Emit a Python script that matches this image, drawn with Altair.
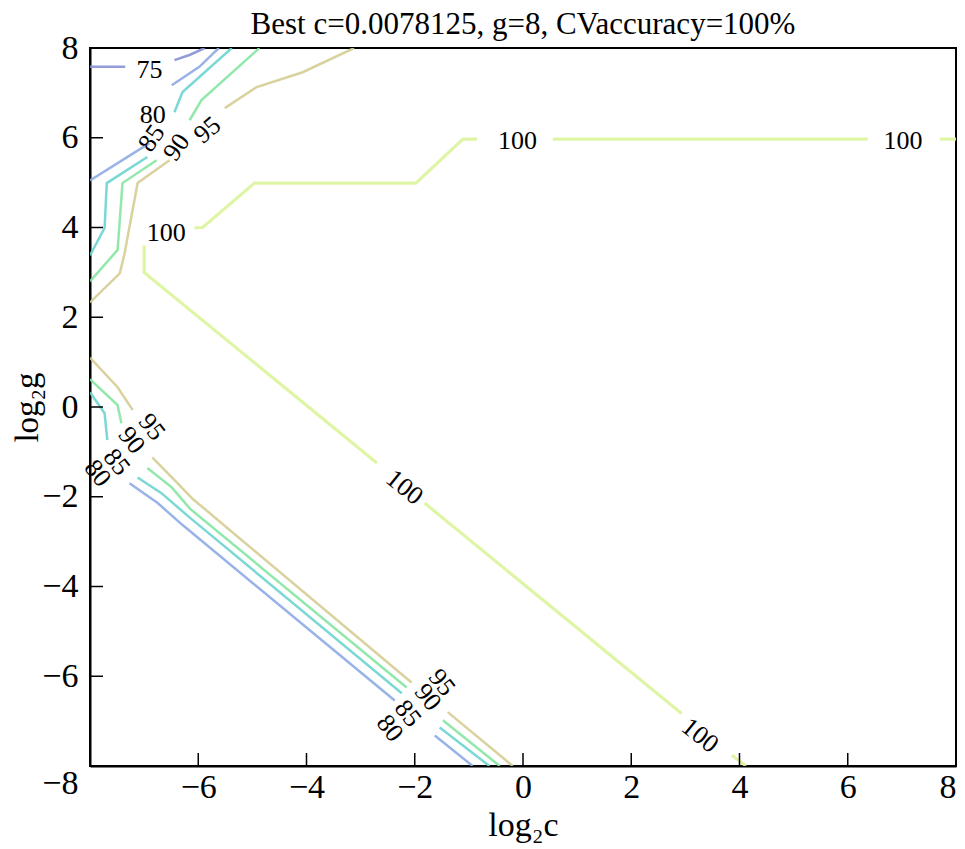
import altair as alt
import pandas as pd

# contour levels and colours
levels = [75, 80, 85, 90, 95, 100]
level_colors = ["#8791d4", "#8eaae6", "#6dd4d0", "#86e6a2", "#d5cd93", "#dcf49c"]

# contour pieces (log2c, log2g), broken where the inline labels sit
piece_level = [75, 75,
               80, 80, 85, 85, 90, 90, 95, 95,
               95, 95, 95, 90, 90, 90, 85, 85, 85, 80, 80,
               100, 100, 100, 100, 100, 100]
piece_x = [
    [-8, -7.35], [-6.44, -6.15, -5.88],
    [-8, -6.9], [-6.49, -5.98, -5.62],
    [-8, -7.73, -7.69, -6.94], [-6.44, -6.29, -5.38],
    [-8, -7.49, -7.4, -6.77], [-6.16, -5.94, -4.87],
    [-8, -7.45, -7.36, -7.12, -6.53], [-5.51, -4.92, -4.07, -3.12],
    [-8, -7.49, -7.21], [-6.85, -6.38, -6.1, -2.06], [-1.39, -0.19],
    [-8, -7.49, -7.42], [-6.94, -6.49, -6.15, -2.15], [-1.48, -0.43],
    [-8, -7.73, -7.68], [-7.12, -6.68, -6.2, -2.24], [-1.54, -0.62],
    [-7.27, -6.75, -6.3, -2.37], [-1.63, -0.93],
    [-7, -7, -2.7], [-1.82, 2.93], [3.86, 4.12],
    [-6.07, -5.92, -4.96, -1.98, -1.11, -0.85], [0.55, 6.37], [7.7, 8],
]
piece_y = [
    [7.58, 7.58], [7.73, 7.85, 8.0],
    [5.05, 5.88], [7.17, 7.58, 8.0],
    [3.38, 3.99, 4.99, 5.57], [6.57, 7.02, 8.0],
    [2.8, 3.5, 4.99, 5.5], [6.39, 6.84, 8.0],
    [2.33, 2.98, 3.43, 4.99, 5.5], [6.66, 7.13, 7.46, 8.0],
    [1.1, 0.44, -0.07], [-1.12, -1.7, -2.05, -6.14], [-6.8, -8],
    [0.62, 0.04, -0.36], [-1.36, -1.79, -2.27, -6.25], [-6.98, -8],
    [0.33, -0.14, -0.74], [-1.57, -1.92, -2.42, -6.38], [-7.14, -8],
    [-1.7, -2.14, -2.62, -6.54], [-7.32, -8],
    [3.6, 3.0, -1.25], [-2.14, -6.83], [-7.76, -8],
    [3.99, 4.0, 4.99, 4.99, 5.97, 5.97], [5.97, 5.97], [5.97, 5.97],
]

# inline labels
label_text = ["75", "80", "85", "90", "95", "100", "100", "100", "100", "100",
              "95", "90", "85", "80", "95", "90", "85", "80"]
label_x = [-6.9, -6.84, -6.86, -6.4, -5.83, -6.59, -0.1, 7.02, -2.19, 3.27,
           -6.86, -7.23, -7.51, -7.86, -1.5, -1.76, -2.13, -2.46]
label_y = [7.51, 6.5, 5.99, 5.79, 6.17, 3.88, 5.93, 5.93, -1.79, -7.32,
           -0.45, -0.74, -1.23, -1.48, -6.14, -6.47, -6.83, -7.16]
label_angle = [0, 0, 305, 305, 320, 0, 0, 0, 39, 39,
               52, 52, 52, 52, 52, 52, 52, 52]

tick_values = [-8, -6, -4, -2, 0, 2, 4, 6, 8]
x_label_values = [-6, -4, -2, 0, 2, 4, 6, 8]

rows = []
for pid, (lv, xs, ys) in enumerate(zip(piece_level, piece_x, piece_y)):
    for i, (a, b) in enumerate(zip(xs, ys)):
        rows.append({"piece": pid, "level": lv, "i": i, "x": a, "y": b,
                     "w": 3.2 if lv == 100 else 2.5})
lines_df = pd.DataFrame(rows)
labels_df = pd.DataFrame({"t": label_text, "x": label_x, "y": label_y, "ang": label_angle})
ticks_df = pd.DataFrame({"t": tick_values})

FONT = "Liberation Serif"
W, H = 866, 718
xscale = alt.Scale(domain=[-8, 8], nice=False, zero=False)
yscale = alt.Scale(domain=[-8, 8], nice=False, zero=False)

xaxis = alt.Axis(values=x_label_values, ticks=False, grid=False, domainColor="black",
                 domainWidth=2, labelFont=FONT, labelFontSize=34, labelColor="black",
                 labelPadding=4, labelFlush=True, title="log₂c", titleFont=FONT,
                 titleFontSize=34, titleFontWeight="normal", titleColor="black",
                 titlePadding=4)
yaxis = alt.Axis(values=tick_values, ticks=False, grid=False, domainColor="black",
                 domainWidth=2, labelFont=FONT, labelFontSize=34, labelColor="black",
                 labelPadding=12, labelFlush=False,
                 labelBaseline={"condition": {"test": "datum.value == -8", "value": "top"},
                                "value": "middle"},
                 title="log₂g", titleFont=FONT, titleFontSize=33,
                 titleFontWeight="normal", titleColor="black", titleX=-46)

lines = alt.Chart(lines_df).mark_line(opacity=0.9, clip=True).encode(
    x=alt.X("x:Q", scale=xscale, axis=xaxis),
    y=alt.Y("y:Q", scale=yscale, axis=yaxis),
    color=alt.Color("level:N", scale=alt.Scale(domain=levels, range=level_colors), legend=None),
    strokeWidth=alt.StrokeWidth("w:Q", scale=None),
    detail="piece:N",
    order="i:Q",
)

labels = alt.Chart(labels_df).mark_text(font=FONT, fontSize=26, color="black",
                                        align="center", baseline="middle").encode(
    x=alt.X("x:Q", scale=xscale),
    y=alt.Y("y:Q", scale=yscale),
    text="t:N",
    angle=alt.Angle("ang:Q", scale=None),
)

xticks = alt.Chart(ticks_df).mark_rule(color="black", strokeWidth=1.5).encode(
    x=alt.X("t:Q", scale=xscale), y=alt.value(H), y2=alt.value(H - 13))
yticks = alt.Chart(ticks_df).mark_rule(color="black", strokeWidth=1.5).encode(
    y=alt.Y("t:Q", scale=yscale), x=alt.value(0), x2=alt.value(13))

chart = alt.layer(lines, labels, xticks, yticks).properties(
    width=W, height=H,
    autosize=alt.AutoSizeParams(type="none"),
    padding={"left": 82, "top": 40, "right": 1, "bottom": 80},
    title=alt.TitleParams("Best c=0.0078125, g=8, CVaccuracy=100%", font=FONT,
                          fontSize=31, fontWeight="normal", color="black",
                          anchor="middle", offset=0, dy=10),
).configure_view(stroke="black", strokeWidth=2)

chart.save("out.html", embed_options={"renderer": "svg", "actions": False})
